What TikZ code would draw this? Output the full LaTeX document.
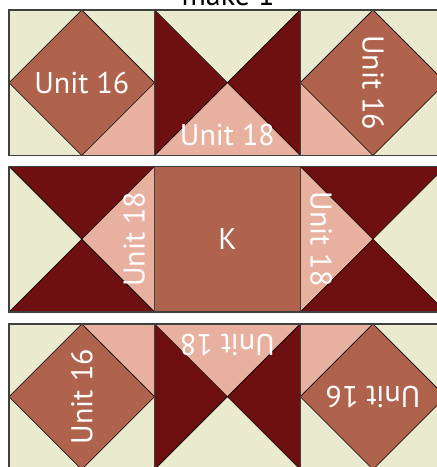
\documentclass[tikz,border=0pt]{standalone}
\usepackage{fontspec}
\setmainfont{PT Sans}
\usetikzlibrary{positioning}
\definecolor{QCream}{RGB}{234,234,206}
\definecolor{QRed}{RGB}{110,16,18}
\definecolor{QBrown}{RGB}{175,99,77}
\definecolor{QPink}{RGB}{232,176,159}
\definecolor{QEdge}{RGB}{64,64,64}
\newcommand{\blk}{145.6}
\newcommand{\hlf}{72.8}
\tikzset{
  seam/.style={draw=black,line width=0.6pt},
  frame/.style={draw=QEdge,line width=1.4pt},
  unit/.style={text=white,inner sep=0pt,font=\fontsize{30}{35}\selectfont},
  title/.style={text=black,inner sep=0pt,font=\fontsize{30}{35}\selectfont},
}
% hourglass block: colours of left, top, right, bottom triangle
\newcommand{\hourglass}[4]{%
  \fill[#1] (0,0) -- (0,\blk) -- (\hlf,\hlf) -- cycle;
  \fill[#2] (0,\blk) -- (\blk,\blk) -- (\hlf,\hlf) -- cycle;
  \fill[#3] (\blk,\blk) -- (\blk,0) -- (\hlf,\hlf) -- cycle;
  \fill[#4] (\blk,0) -- (0,0) -- (\hlf,\hlf) -- cycle;
  \draw[seam] (0,0) -- (\blk,\blk) (0,\blk) -- (\blk,0);
  \draw[frame] (0,0) rectangle (\blk,\blk);
}
% square in a square: pink corner turned by #1 from bottom right
\newcommand{\sqdiamond}[1]{%
  \fill[QCream] (0,0) rectangle (\blk,\blk);
  \fill[QPink,rotate around={#1:(\hlf,\hlf)}] (\hlf,0) -- (\blk,0) -- (\blk,\hlf) -- cycle;
  \filldraw[QBrown,seam,fill=QBrown] (\hlf,0) -- (\blk,\hlf) -- (\hlf,\blk) -- (0,\hlf) -- cycle;
  \draw[frame] (0,0) rectangle (\blk,\blk);
}

\begin{document}
\begin{tikzpicture}[x=1pt,y=1pt]
  \useasboundingbox (0,0) rectangle (437,467);
  \clip (0,0) rectangle (437,467);
  \node[title,anchor=base] (mk) at (228,461) {make 1};

  % top row
  \begin{scope}[shift={(9,311.5)}]
    \sqdiamond{0}
    \node[unit] (ua) at (\hlf,\hlf) {Unit 16};
  \end{scope}
  \begin{scope}[shift={(154.6,311.5)}]
    \hourglass{QRed}{QCream}{QRed}{QPink}
    \node[unit] (ub) at (\hlf,20) {Unit 18};
  \end{scope}
  \begin{scope}[shift={(300.2,311.5)}]
    \sqdiamond{270}
    \node[unit,rotate=-90] (uc) at (\hlf,\hlf) {Unit 16};
  \end{scope}

  % middle row
  \begin{scope}[shift={(9,155)}]
    \hourglass{QCream}{QRed}{QPink}{QRed}
    \node[unit,rotate=90] (ud) at (125,\hlf) {Unit 18};
  \end{scope}
  \begin{scope}[shift={(154.6,155)}]
    \fill[QBrown] (0,0) rectangle (\blk,\blk);
    \draw[frame] (0,0) rectangle (\blk,\blk);
    \node[unit] (ue) at (\hlf,\hlf) {K};
  \end{scope}
  \begin{scope}[shift={(300.2,155)}]
    \hourglass{QPink}{QRed}{QCream}{QRed}
    \node[unit,rotate=-90] (uf) at (21,\hlf) {Unit 18};
  \end{scope}

  % bottom row
  \begin{scope}[shift={(9,-2.5)}]
    \sqdiamond{90}
    \node[unit,rotate=90] (ug) at (\hlf,\hlf) {Unit 16};
  \end{scope}
  \begin{scope}[shift={(154.6,-2.5)}]
    \hourglass{QRed}{QPink}{QRed}{QCream}
    \node[unit,rotate=180] (uh) at (\hlf,124.6) {Unit 18};
  \end{scope}
  \begin{scope}[shift={(300.2,-2.5)}]
    \sqdiamond{180}
    \node[unit,rotate=180] (ui) at (\hlf,\hlf) {Unit 16};
  \end{scope}
\end{tikzpicture}
\end{document}
